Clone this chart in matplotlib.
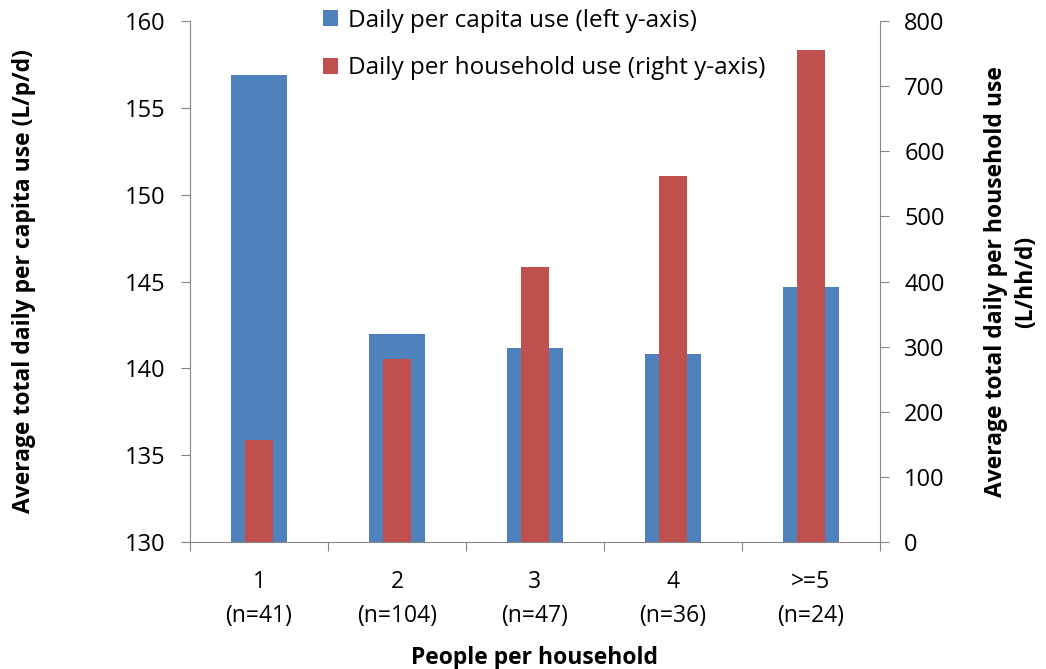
import matplotlib.pyplot as plt
import numpy as np

# --- data ---
kategori = ["1\n(n=41)", "2\n(n=104)", "3\n(n=47)", "4\n(n=36)", ">=5\n(n=24)"]
per_kapita = [156.9, 142.0, 141.2, 140.8, 144.7]
per_rumah = [157, 281, 422, 562, 756]

plt.rcParams['font.family'] = ['Open Sans', 'DejaVu Sans']
warna_abu = '#868686'
fs = 16.5

fig = plt.figure(figsize=(10.46, 6.69), dpi=100)
ax = fig.add_axes([0.1816, 0.1898, 0.6597, 0.7788])
ax2 = ax.twinx()

x = np.arange(len(kategori))
ax.bar(x, per_kapita, width=0.4, color='#4F81BD', zorder=2,
       label='Daily per capita use (left y-axis)')
ax2.bar(x, per_rumah, width=0.2, color='#C0504D', zorder=3,
        label='Daily per household use (right y-axis)')

ax.set_ylim(130, 160)
ax.set_yticks(np.arange(130, 161, 5))
ax2.set_ylim(0, 800)
ax2.set_yticks(np.arange(0, 801, 100))
ax.set_xlim(-0.5, len(kategori) - 0.5)

# tick marks between categories, labels at centres
ax.set_xticks(np.arange(-0.5, len(kategori), 1.0))
ax.set_xticklabels([])
ax.set_xticks(x, minor=True)
ax.set_xticklabels(kategori, minor=True, fontsize=fs, linespacing=1.55)
ax.tick_params(axis='x', which='minor', length=0, pad=20)
ax.tick_params(axis='x', which='major', length=6.5, color=warna_abu, direction='out')

ax.tick_params(axis='y', labelsize=17, length=6.5, color=warna_abu, pad=11)
ax2.tick_params(axis='y', labelsize=17, length=6.5, color=warna_abu, pad=11)

for a in (ax, ax2):
    a.spines['top'].set_visible(False)
    for s in ('left', 'right', 'bottom'):
        a.spines[s].set_color(warna_abu)
ax.spines['right'].set_visible(False)
ax2.spines['left'].set_visible(False)
ax2.spines['bottom'].set_visible(False)

ax.set_ylabel("Average total daily per capita use (L/p/d)", fontsize=fs,
              fontweight='bold', labelpad=64)
ax2.set_ylabel("Average total daily per household use\n(L/hh/d)", fontsize=fs,
               fontweight='bold', labelpad=28, rotation=90, linespacing=1.35)
ax.set_xlabel("People per household", fontsize=fs, fontweight='bold', labelpad=13)

# legend
h1, l1 = ax.get_legend_handles_labels()
h2, l2 = ax2.get_legend_handles_labels()
leg = ax2.legend(h1 + h2, l1 + l2, loc='upper left', bbox_to_anchor=(0.193, 1.024),
                 borderaxespad=0, borderpad=0,
                 frameon=False, fontsize=17.5, handlelength=0.62, handleheight=0.62,
                 handletextpad=0.4, labelspacing=0.98)

plt.savefig('out.png', dpi=100)
